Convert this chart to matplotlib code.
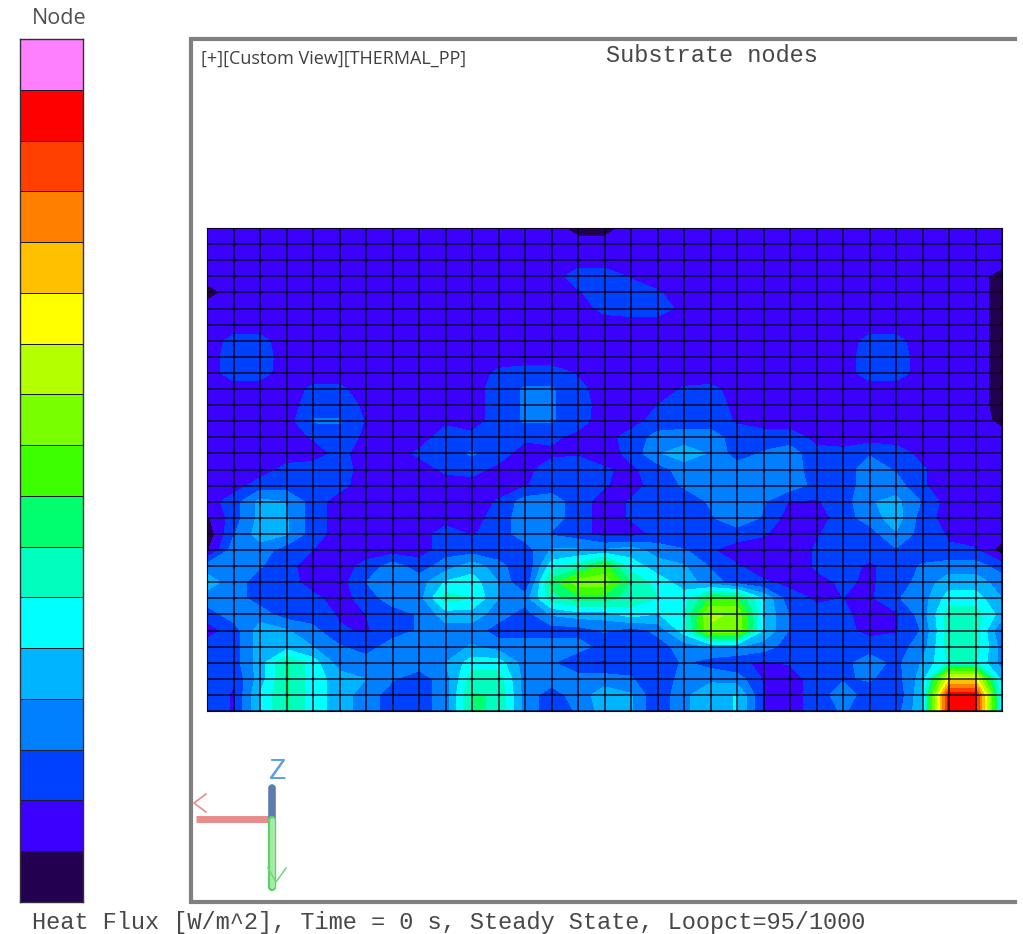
import numpy as np
import matplotlib
matplotlib.use('Agg')
import matplotlib.pyplot as plt

# legend bands, bottom to top
band_colors = ['#240050', '#3c00ff', '#0040ff', '#0080ff', '#00b4ff', '#00ffff',
               '#00ffbe', '#00ff6e', '#3cff00', '#78ff00', '#b4ff00', '#ffff00',
               '#ffc000', '#ff8000', '#ff4000', '#ff0000', '#ff80ff']

title = 'Substrate nodes'
view_label = '[+][Custom View][THERMAL_PP]'
legend_title = 'Node'
footer = 'Heat Flux [W/m^2], Time = 0 s, Steady State, Loopct=95/1000'

# nodal heat flux, as band number. top row of the mesh first
flux = [
 [1,1,1,1,1,1,1,1,1,1,1,1,1,1,0,0,1,1,1,1,1,1,1,1,1,1,1,1,1,1,1],
 [1,1,1,1,1,1,1,1,1,1,1,1,1,1,1,1,1,1,1,1,1,1,1,1,1,1,1,1,1,1,1],
 [1,1,1,1,1,1,1,1,1,1,1,1,1,1,1,1,1,1,1,1,1,1,1,1,1,1,1,1,1,1,1],
 [1,1,1,1,1,1,1,1,1,1,1,1,1,1,2,2,1.4,1,1,1,1,1,1,1,1,1,1,1,1,1,0],
 [0,1,1,1,1,1,1,1,1,1,1,1,1,1,1.4,2,2,1.6,1,1,1,1,1,1,1,1,1,1,1,1,0],
 [1,1,1,1,1,1,1,1,1,1,1,1,1,1,1,1.8,2,2,1.2,1,1,1,1,1,1,1,1,1,1,1,0],
 [1,1,1,1,1,1,1,1,1,1,1,1,1,1,1,1,1,1,1,1,1,1,1,1,1,1,1,1,1,1,0],
 [1,1.8,1.8,1,1,1,1,1,1,1,1,1,1,1,1,1,1,1,1,1,1,1,1,1,1,1.8,1.8,1,1,1,0],
 [1,2,2,1,1,1,1,1,1,1,1,1,1,1,1,1,1,1,1,1,1,1,1,1,1,2,2,1,1,1,0],
 [1,2,1.9,1,1,1,1,1,1,1,1,1.7,1.9,1.9,1.4,1,1,1,1,1,1,1,1,1,1,2,2,1,1,1,0],
 [1,1,1,1,1.7,1.7,1,1,1,1,1,2,2.6,2.6,1.8,1,1,1,1.6,1.7,1.2,1,1,1,1,1,1,1,1,1,0],
 [1,1,1,1,2,2,1.3,1,1,1,1,2,2.6,2.6,2,1,1,1.5,2,2,1.2,1,1,1,1,1,1,1,1,1,0],
 [1,1,1,1,2.6,2.6,1.4,1,1,1.3,1,2,2.6,2.6,1.9,1,1,2,2,2,1.4,1,1,1,1,1,1,1,1,1,0.2],
 [1,1,1,1,1.6,2,1.3,1,1,2,1.8,1.5,1.7,1.7,1.2,1,2,2.8,3,3,2,2,2,1.2,1,1,1,1,1,1,1],
 [1,1,1,1,1,1.8,1,1,1.7,2.2,2.6,2,1,1.3,1.4,1,1.8,3.4,4,3.4,2,2.6,3,1.8,1.8,2.4,2,1.2,1,1,1],
 [1,1,1,1.8,2,2,1,1,1,1.7,1.9,1.2,1.2,2,2,1.6,1.3,2,3,3,3,3,3,2,2,3,2.4,1.6,1,1,1],
 [1,1,2,2,2,1.8,1,1,1,1,1,1,1.4,2,2,1.6,1,2,2.6,3,3,3,3,2.2,2,3,3,1.6,1,1,1],
 [1,2,3.8,3.5,2,1,1,1,1,1,1,1.6,3,3,2,1,1.6,2,2,2.6,3.4,2.6,1.4,1.4,2,3.4,3.8,2.4,1,1,1],
 [0.3,2,3.8,3.6,2,1,1,1,1,1,1,2,3,3,2,1,1.6,2,2,2.4,3.2,2.4,1,1,2,3,4,2,1,1,1],
 [-0.2,2.4,4,3.6,2,1,1,1,1,2,1.4,2,3,2.4,2,1,1,1.8,1.4,1.8,2,1.6,1,1.4,2,2,3.4,2,1.4,1,1],
 [0.3,3,3,2,1.5,1,1,1,1,2,2,1.6,2,3.6,3.6,3.6,4,3,2.6,1.6,1,1,1,1.6,2,2,2.4,2,1.6,1.6,0],
 [3,3.5,2.6,1.8,1,1,1.8,3,2,3,4,3,1.4,5,6,8,5,4,3.6,2.4,1.6,1,1,1.6,2,1.3,2,2.6,3,3,2],
 [4,3,2,2,1,1,2.5,3,3,4.6,5,3.5,1.4,7,9,9,6.5,5,4,3,2,1.6,1.3,1.3,1.6,1.4,1.8,3,4,4,3],
 [3,3,2,2,1.8,1,2,3,3,6,5.5,3.5,3,6,7,7,6,5.5,5,7.5,7.5,4.4,1.8,1.4,1.5,1.3,2.4,3,5,5,3.5],
 [2,3,3,2,2,1.4,1.5,2,2.6,4,4,3,2,3.6,4,4,5,4.4,5.5,9.6,9.4,4.4,2.4,1.7,1.6,1.3,1.3,3,6,6,4],
 [1,2,4,3.6,2.8,1.6,1.4,2,2.6,3,3,2,2,2,2,2.6,2,2.8,5,9.4,9.4,4.4,2.4,2,1.8,1.2,1.4,2.6,6,6,2.4],
 [2,2,4,4,3.5,2.6,2,3,3,3,3.6,3,3,3,3,2,2,2,3,3.6,3.6,3,2,2,2,2,2,3,6,6,3],
 [2,2,4,6.6,5,3,3,3.5,3,3.5,5,5,3,2.6,1.6,1.4,2,2,2.6,2,1.6,1.4,1.6,2,2.2,3,2.2,3.6,5.6,5.6,3],
 [2,1.6,4,6.6,5,4,3.5,2.6,2,3,6,6,3,3,3,3,2.6,1.6,3,3.4,3,1.4,1,2,2.4,2.6,2,4,11,11,4],
 [2,1.4,4.5,6.6,5,4,3,2,2,3,6.6,6.4,3,2,3,4,3.6,1.6,3.4,3.8,4.6,1.4,1,2,3,2,1.6,4.4,15,15,4.5],
 [2,1.4,4.5,6.6,5,4,3,2,2,3,6.6,6.4,3,2,2.6,4,3.6,1.6,3.4,3.8,4.6,1.4,1,2,2.6,2,2,4.4,15,15,4.5],
]

W, H = 1023, 934
fig = plt.figure(figsize=(W / 100, H / 100), dpi=100)

def px_axes(x0, y0, x1, y1):
    return fig.add_axes([x0 / W, 1 - y1 / H, (x1 - x0) / W, (y1 - y0) / H])

# contour plot with element mesh on top
ax = px_axes(207, 228, 1002, 711)
z = np.array(flux)
ax.contourf(np.arange(z.shape[1]), np.arange(z.shape[0]), z,
            levels=np.arange(-0.5, 17), colors=band_colors)
ax.set_xlim(0, z.shape[1] - 1)
ax.set_ylim(z.shape[0] - 1, 0)
ax.set_xticks(np.arange(z.shape[1]))
ax.set_yticks(np.arange(z.shape[0]))
ax.tick_params(length=0, labelbottom=False, labelleft=False)
ax.set_axisbelow(False)
ax.grid(color='#05051e', linewidth=1.2, alpha=0.85)
for s in ax.spines.values():
    s.set_color('#05051e')
    s.set_linewidth(0.8)

# colour legend
lax = px_axes(20, 39, 83, 902)
lax.pcolormesh([0, 1], np.arange(len(band_colors) + 1),
               np.arange(len(band_colors)).reshape(-1, 1),
               cmap=matplotlib.colors.ListedColormap(band_colors),
               edgecolors='#1a1a2a', linewidth=0.7)
lax.set_xticks([])
lax.set_yticks([])
for s in lax.spines.values():
    s.set_color('#30303a')
    s.set_linewidth(1.0)

# overlay in pixel coords for the frame, triad and texts
ov = fig.add_axes([0, 0, 1, 1])
ov.set_xlim(0, W)
ov.set_ylim(H, 0)
ov.axis('off')
ov.patch.set_alpha(0)

ov.plot([1015, 191, 191, 1015], [39, 39, 902, 902], color='#808080', lw=3.0, solid_joinstyle='miter')

ov.plot([196, 270], [819, 819], color='#e98c8c', lw=5, solid_capstyle='butt')
ov.plot([272, 272], [788, 820], color='#5f7cb0', lw=5.5, solid_capstyle='round')
ov.plot([272, 272], [820, 887], color='#5fcf6a', lw=6, solid_capstyle='round')
ov.plot([272, 272], [820, 886], color='#a4eca8', lw=3.5, solid_capstyle='round')
ov.plot([206, 194, 206], [794, 803, 812], color='#e98c8c', lw=1.2)
ov.plot([268, 276, 286], [868, 882, 868], color='#6fd878', lw=1.1)
ov.text(278, 771, 'Z', color='#5b9be8', fontsize=21, family='Liberation Mono', ha='center', va='center')

ov.text(59, 18, legend_title, color='#505050', fontsize=15.5, family='Open Sans', ha='center', va='center')
ov.text(201, 59, view_label, color='#404040', fontsize=13, family='Open Sans', ha='left', va='center')
ov.text(606, 55, title, color='#484848', fontsize=17, family='Liberation Mono', ha='left', va='center')
ov.text(32, 923, footer, color='#484848', fontsize=17, family='Liberation Mono', ha='left', va='center')

fig.savefig('out.png', dpi=100, facecolor='white')
